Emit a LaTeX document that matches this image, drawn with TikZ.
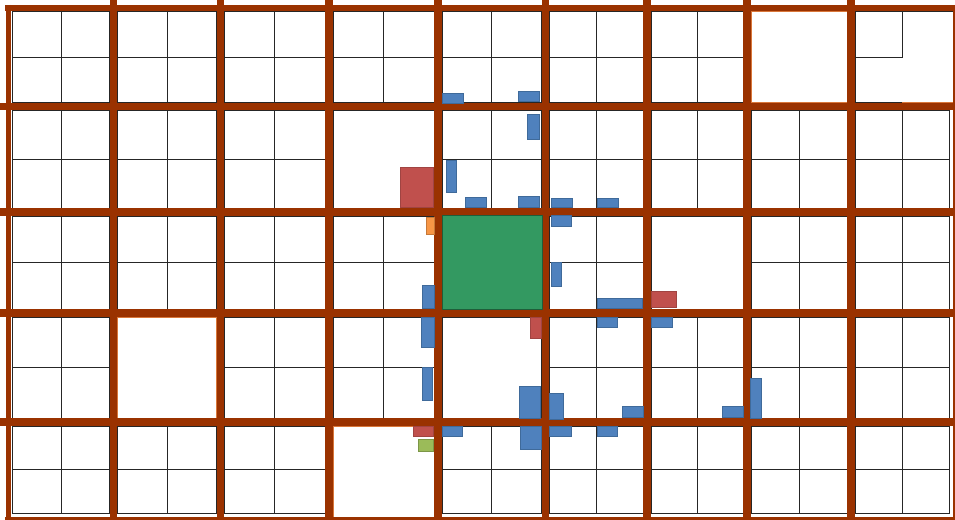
\documentclass[tikz,border=0pt]{standalone}
\definecolor{brn}{HTML}{9A3200}
\definecolor{cblue}{HTML}{4F81BD}
\definecolor{cbluel}{HTML}{3F6A9A}
\definecolor{cred}{HTML}{C0504D}
\definecolor{credl}{HTML}{A04442}
\definecolor{cgreen}{HTML}{339961}
\definecolor{cgreenl}{HTML}{1F5E3A}
\definecolor{corange}{HTML}{F79646}
\definecolor{clgreen}{HTML}{9BBB59}
\definecolor{edgeor}{HTML}{D9773A}
\tikzset{
  thinl/.style={draw=black!85, line width=0.8pt},
  brownl/.style={draw=brn, line width=7.6pt},
  bluebox/.style={fill=cblue, draw=cbluel, line width=0.5pt},
  redbox/.style={fill=cred, draw=credl, line width=0.5pt},
  greenbox/.style={fill=cgreen, draw=cgreenl, line width=0.8pt},
  orangebox/.style={fill=corange, draw=corange!80!black, line width=0.4pt},
  lgreenbox/.style={fill=clgreen, draw=clgreen!80!black, line width=0.4pt},
  emptycell/.style={fill=white, draw=edgeor, line width=0.8pt},
  emptyblack/.style={fill=white, draw=black!85, line width=0.8pt}
}
\begin{document}
\begin{tikzpicture}[x=1pt,y=-1pt]
\useasboundingbox (0,0) rectangle (955,519);
\clip (0,0) rectangle (955,519);
\fill[white] (0,0) rectangle (955,519);
% all cells subdivided 2x2
\foreach \c in {0,...,8}{
  \foreach \r in {0,...,4}{
    \pgfmathsetmacro\xa{{8.5,113.5,220.5,329,438,545.5,647,747,851,953}[\c]}
    \pgfmathsetmacro\xb{{8.5,113.5,220.5,329,438,545.5,647,747,851,953}[\c+1]}
    \pgfmathsetmacro\ya{{8,106.5,212,313,422,517}[\r]}
    \pgfmathsetmacro\yb{{8,106.5,212,313,422,517}[\r+1]}
    \pgfmathsetmacro\xm{(\xa+\xb)/2}
    \pgfmathsetmacro\ym{(\ya+\yb)/2}
    \draw[thinl] (\xa+3.9,\ya+3.9) rectangle (\xb-3.9,\yb-3.9);
    \draw[thinl] (\xm,\ya+3.9) -- (\xm,\yb-3.9);
    \draw[thinl] (\xa+3.9,\ym) -- (\xb-3.9,\ym);
  }
}
% empty cells
\draw[emptycell] (750.9,11.9) rectangle (847.1,102.6);   % row 0 col 7
\draw[emptyblack] (332.9,110.4) rectangle (434.1,208.1); % row 1 col 3
\draw[emptyblack] (650.9,215.9) rectangle (743.1,309.1); % row 2 col 6
\draw[emptycell] (117.4,316.9) rectangle (216.6,418.1);  % row 3 col 1
\draw[emptyblack] (441.9,316.9) rectangle (541.6,418.1); % row 3 col 4
\draw[emptycell] (332.9,425.9) rectangle (434.1,519);    % row 4 col 3
% partial cell row 0 col 8
\fill[white] (854.9,11.9) rectangle (955,102.6);
\draw[thinl] (854.9,102.6) -- (854.9,11.9) -- (955,11.9);
\draw[thinl] (902,11.9) -- (902,57.2) -- (854.9,57.2);
\draw[thinl] (854.9,102.6) -- (902,102.6);
\draw[draw=edgeor, line width=0.8pt] (902,102.6) -- (955,102.6);
% brown thick lines
\foreach \x in {113.5,220.5,329,438,545.5,647,747,851}{
  \draw[brownl] (\x,0) -- (\x,519);
}
\foreach \y in {106.5,212,313,422}{
  \draw[brownl] (0,\y) -- (955,\y);
}
\draw[draw=brn, line width=4.5pt] (8.5,5) -- (8.5,519);
\draw[draw=brn, line width=6.5pt] (5,8) -- (955,8);
\draw[draw=brn, line width=5pt] (955,5) -- (955,519);
\draw[draw=brn, line width=4pt] (5,519) -- (955,519);
% green block
\draw[greenbox] (442,215.5) rectangle (542,309);
% blue blocks
\foreach \a/\b/\cc/\d in {442/93/463/103, 518/91/539/101, 527/114/539/139,
  446/160/456/192, 465/197/486/207, 518/196/539/207, 551/198/572/207,
  597/198/618/207, 551/215/571/226, 551/262/561/286, 597/298/642/308,
  422/285/434/308, 421/317/434/347, 597/317/617/327, 651/317/672/327,
  422/367/432/400, 519/386/540/418, 549/393/563/419, 622/406/643/417,
  722/406/743/417, 750/378/761/418, 442/426/462/436, 520/426/541/449,
  549/426/571/436, 597/426/617/436}{
  \draw[bluebox] (\a,\b) rectangle (\cc,\d);
}
% red blocks
\foreach \a/\b/\cc/\d in {400/167/433/207, 651/291/676/307, 530/317/541/338, 413/426/433/436}{
  \draw[redbox] (\a,\b) rectangle (\cc,\d);
}
\draw[orangebox] (426,217) rectangle (434,234);
\draw[lgreenbox] (418,439) rectangle (433,451);
\end{tikzpicture}
\end{document}
